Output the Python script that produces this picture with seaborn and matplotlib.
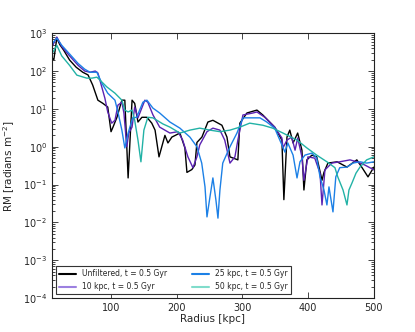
import matplotlib
matplotlib.use("Agg")
import matplotlib.pyplot as plt
import seaborn as sns

# Radius [kpc] and RM [radians m^-2]
unfiltered_r = [10, 13, 17.5, 22, 28, 37, 47, 57, 65, 72, 80, 87.6, 95, 100, 103, 109,
                116.5, 121, 126, 132, 136, 141, 147, 154.6, 162, 167, 173, 182, 186.6,
                192.6, 204.8, 212.4, 215.5, 223, 227.7, 230.7, 238.3, 247.4, 255, 268.7,
                276.4, 281, 293, 296, 306.8, 322, 331, 349, 360, 363, 367.7, 372, 377,
                384, 390.5, 393.5, 398, 405.7, 413, 421, 424, 430, 444, 459, 474, 482,
                491, 500]
unfiltered_rm = [224, 200, 741, 501, 355, 195, 126, 93, 79, 43, 17, 14, 11.2, 2.5, 3.3, 6.0,
                 17, 17, 0.15, 17, 14, 4.5, 6.0, 6.0, 4.2, 2.75, 0.54, 2.0, 1.26,
                 1.8, 2.3, 0.93, 0.21, 0.25, 0.33, 1.3, 1.8, 4.5, 5.0, 3.7,
                 1.8, 0.54, 0.45, 4.2, 7.8, 9.3, 6.9, 3.3, 1.5, 0.040, 1.8, 2.75, 1.26,
                 2.3, 0.81, 0.072, 0.45, 0.60, 0.54, 0.13, 0.21, 0.37, 0.40, 0.29, 0.45, 0.28,
                 0.16, 0.29]

kpc10_r = [10, 17.5, 25, 37, 50, 60, 68, 76, 80, 83, 90.7, 95, 101, 106, 110.5, 116.5,
           119.6, 124, 127, 132, 136, 141, 151.5, 156, 163.7, 174, 189.6, 201.8, 209,
           217, 224.6, 230.7, 235, 246, 255, 265.7, 273, 281, 288.5, 293, 300.7, 316,
           322, 334, 349, 360, 361.6, 367.7, 375, 380, 384, 390.5, 393.5, 399.6, 410,
           418, 421, 425.5, 436, 448, 463.6, 474, 486, 500]
kpc10_rm = [427, 794, 447, 251, 141, 100, 93, 100, 89, 58, 19, 8.3, 4.2, 5.0, 12.6, 15,
            7.8, 1.0, 2.3, 3.3, 11.2, 5.8, 17, 15, 7.0, 3.3, 2.3, 2.5, 1.5,
            0.54, 0.28, 0.54, 1.12, 2.5, 3.1, 2.75, 1.5, 0.37, 0.54, 1.5, 6.9, 7.8,
            8.3, 6.0, 3.3, 1.7, 0.93, 1.5, 1.8, 0.81, 1.7, 0.54, 0.13, 0.54, 0.50,
            0.20, 0.029, 0.245, 0.37, 0.40, 0.45, 0.40, 0.33, 0.245]

kpc25_r = [10, 17.5, 25, 37, 50, 60, 68, 78.5, 86, 95, 106, 110.5, 116.5, 121, 126, 133,
           139, 148.5, 154.6, 163.7, 174, 189.6, 204.8, 220, 230.7, 238, 243, 246,
           250.5, 255, 259.6, 262.7, 265.7, 270, 281, 291.6, 300.7, 311, 326.6, 337,
           349, 360, 364.6, 369, 377, 383, 387.5, 395, 405.7, 413, 418, 424, 428.5,
           431.6, 437.7, 442, 448, 459, 468, 478.8, 489, 500]
kpc25_rm = [513, 741, 479, 282, 158, 112, 93, 93, 48, 26, 17, 8.3, 2.75, 0.93, 2.3, 5.8,
            6.0, 15, 17, 10.5, 7.8, 4.5, 3.1, 1.8, 1.0, 0.37, 0.087, 0.014,
            0.047, 0.15, 0.039, 0.013, 0.072, 0.37, 1.0, 2.3, 5.8, 5.8, 5.8, 4.5,
            3.1, 1.12, 0.72, 1.26, 0.60, 0.15, 0.40, 0.60, 0.68, 0.50, 0.16, 0.072, 0.029,
            0.087, 0.019, 0.16, 0.28, 0.29, 0.37, 0.40, 0.37, 0.40]

kpc50_r = [10, 17.5, 25, 37, 48, 63, 71, 78.5, 83, 93.7, 106, 116.5, 121, 126, 132, 136,
           141, 145.5, 150, 156, 163.7, 179, 189.6, 204.8, 220, 235, 250.5, 265.7, 281,
           296, 311, 331, 346, 361.6, 383, 398, 413, 428.5, 440.7, 445, 453, 459, 462,
           466.6, 472.7, 478.8, 489, 500]
kpc50_rm = [282, 479, 251, 141, 78, 65, 65, 69, 58, 38, 26, 17, 9.3, 8.3, 9.3, 5.0,
            1.5, 0.4, 2.75, 6.0, 5.8, 4.0, 3.3, 2.3, 2.75, 3.1, 2.75, 2.5, 2.75,
            3.3, 4.2, 3.7, 3.1, 2.3, 1.5, 0.93, 0.60, 0.40, 0.28, 0.16, 0.072, 0.029, 0.072,
            0.11, 0.20, 0.29, 0.45, 0.54]

labels = ["Unfiltered, t = 0.5 Gyr", "10 kpc, t = 0.5 Gyr",
          "25 kpc, t = 0.5 Gyr", "50 kpc, t = 0.5 Gyr"]

sns.set_style("ticks", {"xtick.direction": "in", "ytick.direction": "in",
                        "axes.edgecolor": "#222222"})
plt.rcParams["font.family"] = ["DejaVu Sans"]

fig, ax = plt.subplots(figsize=(4.15, 3.32), dpi=100)
fig.subplots_adjust(left=0.125, right=0.901, bottom=0.102, top=0.9)

series = [(unfiltered_r, unfiltered_rm, "black"),
          (kpc10_r, kpc10_rm, "#5a22b2"),
          (kpc25_r, kpc25_rm, "#1c80e6"),
          (kpc50_r, kpc50_rm, "#22b2a6")]
for (r, rm, col), lab in zip(series, labels):
    sns.lineplot(x=r, y=rm, ax=ax, color=col, lw=1.0, label=lab,
                 sort=False, estimator=None)

ax.set_yscale("log")
ax.set_xlim(10, 500)
ax.set_ylim(1e-4, 1e3)
ax.set_xticks([100, 200, 300, 400, 500])
ax.tick_params(which="both", top=True, right=True, labelsize=7, width=0.6)
ax.tick_params(which="major", length=4)
ax.tick_params(which="minor", length=2)
for s in ax.spines.values():
    s.set_linewidth(0.8)
ax.set_xlabel("Radius [kpc]", fontsize=7.5, labelpad=1)
ax.set_ylabel("RM [radians m$^{-2}$]", fontsize=7.5, labelpad=4)

leg = ax.legend(loc="lower left", ncol=2, fontsize=5.5, frameon=True, fancybox=False,
                edgecolor="#333333", framealpha=1, handlelength=2.2, columnspacing=3.3,
                borderaxespad=0.5)
leg.get_frame().set_linewidth(0.8)
legend_cols = ["black", "#9c80e0", "#1c80e6", "#80dccb"]
for line, c in zip(leg.get_lines(), legend_cols):
    line.set_color(c)
    line.set_linewidth(1.5)

fig.savefig("out.png", dpi=100)
